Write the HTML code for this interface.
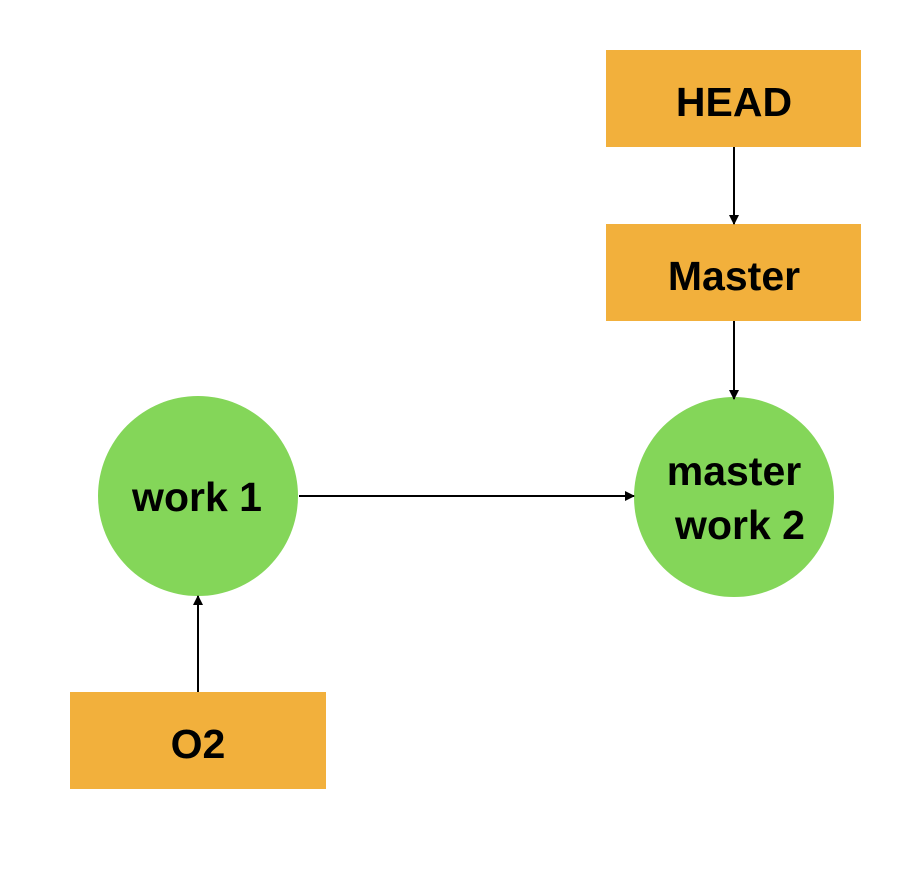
<!DOCTYPE html>
<html><head><meta charset="utf-8"><style>
html,body{margin:0;padding:0;background:#fff;}
svg{display:block;}
text{font-family:"Liberation Sans",sans-serif;font-weight:bold;font-size:41px;fill:#000;}
</style></head><body>
<svg width="904" height="870" viewBox="0 0 904 870" xmlns="http://www.w3.org/2000/svg">
<defs><marker id="a" markerWidth="10" markerHeight="10" refX="9" refY="5" orient="auto" markerUnits="userSpaceOnUse"><path d="M0,0 L10,5 L0,10 Z" fill="#000"/></marker></defs>
<rect x="606" y="50" width="255" height="97" fill="#F2B03C"/>
<text x="734" y="116" text-anchor="middle">HEAD</text>
<rect x="606" y="224" width="255" height="97" fill="#F2B03C"/>
<text x="734" y="290" text-anchor="middle">Master</text>
<rect x="70" y="692" width="256" height="97" fill="#F2B03C"/>
<text x="198" y="758" text-anchor="middle">O2</text>
<circle cx="198" cy="496" r="100" fill="#84D659"/>
<text x="197" y="511" text-anchor="middle">work 1</text>
<circle cx="734" cy="497" r="100" fill="#84D659"/>
<text x="734" y="485" text-anchor="middle">master</text>
<text x="740" y="539" text-anchor="middle">work 2</text>
<g stroke="#000" stroke-width="2" fill="none">
<line x1="734" y1="147" x2="734" y2="224" marker-end="url(#a)"/>
<line x1="734" y1="321" x2="734" y2="399" marker-end="url(#a)"/>
<line x1="299" y1="496" x2="634" y2="496" marker-end="url(#a)"/>
<line x1="198" y1="692" x2="198" y2="596" marker-end="url(#a)"/>
</g>
</svg>
</body></html>
